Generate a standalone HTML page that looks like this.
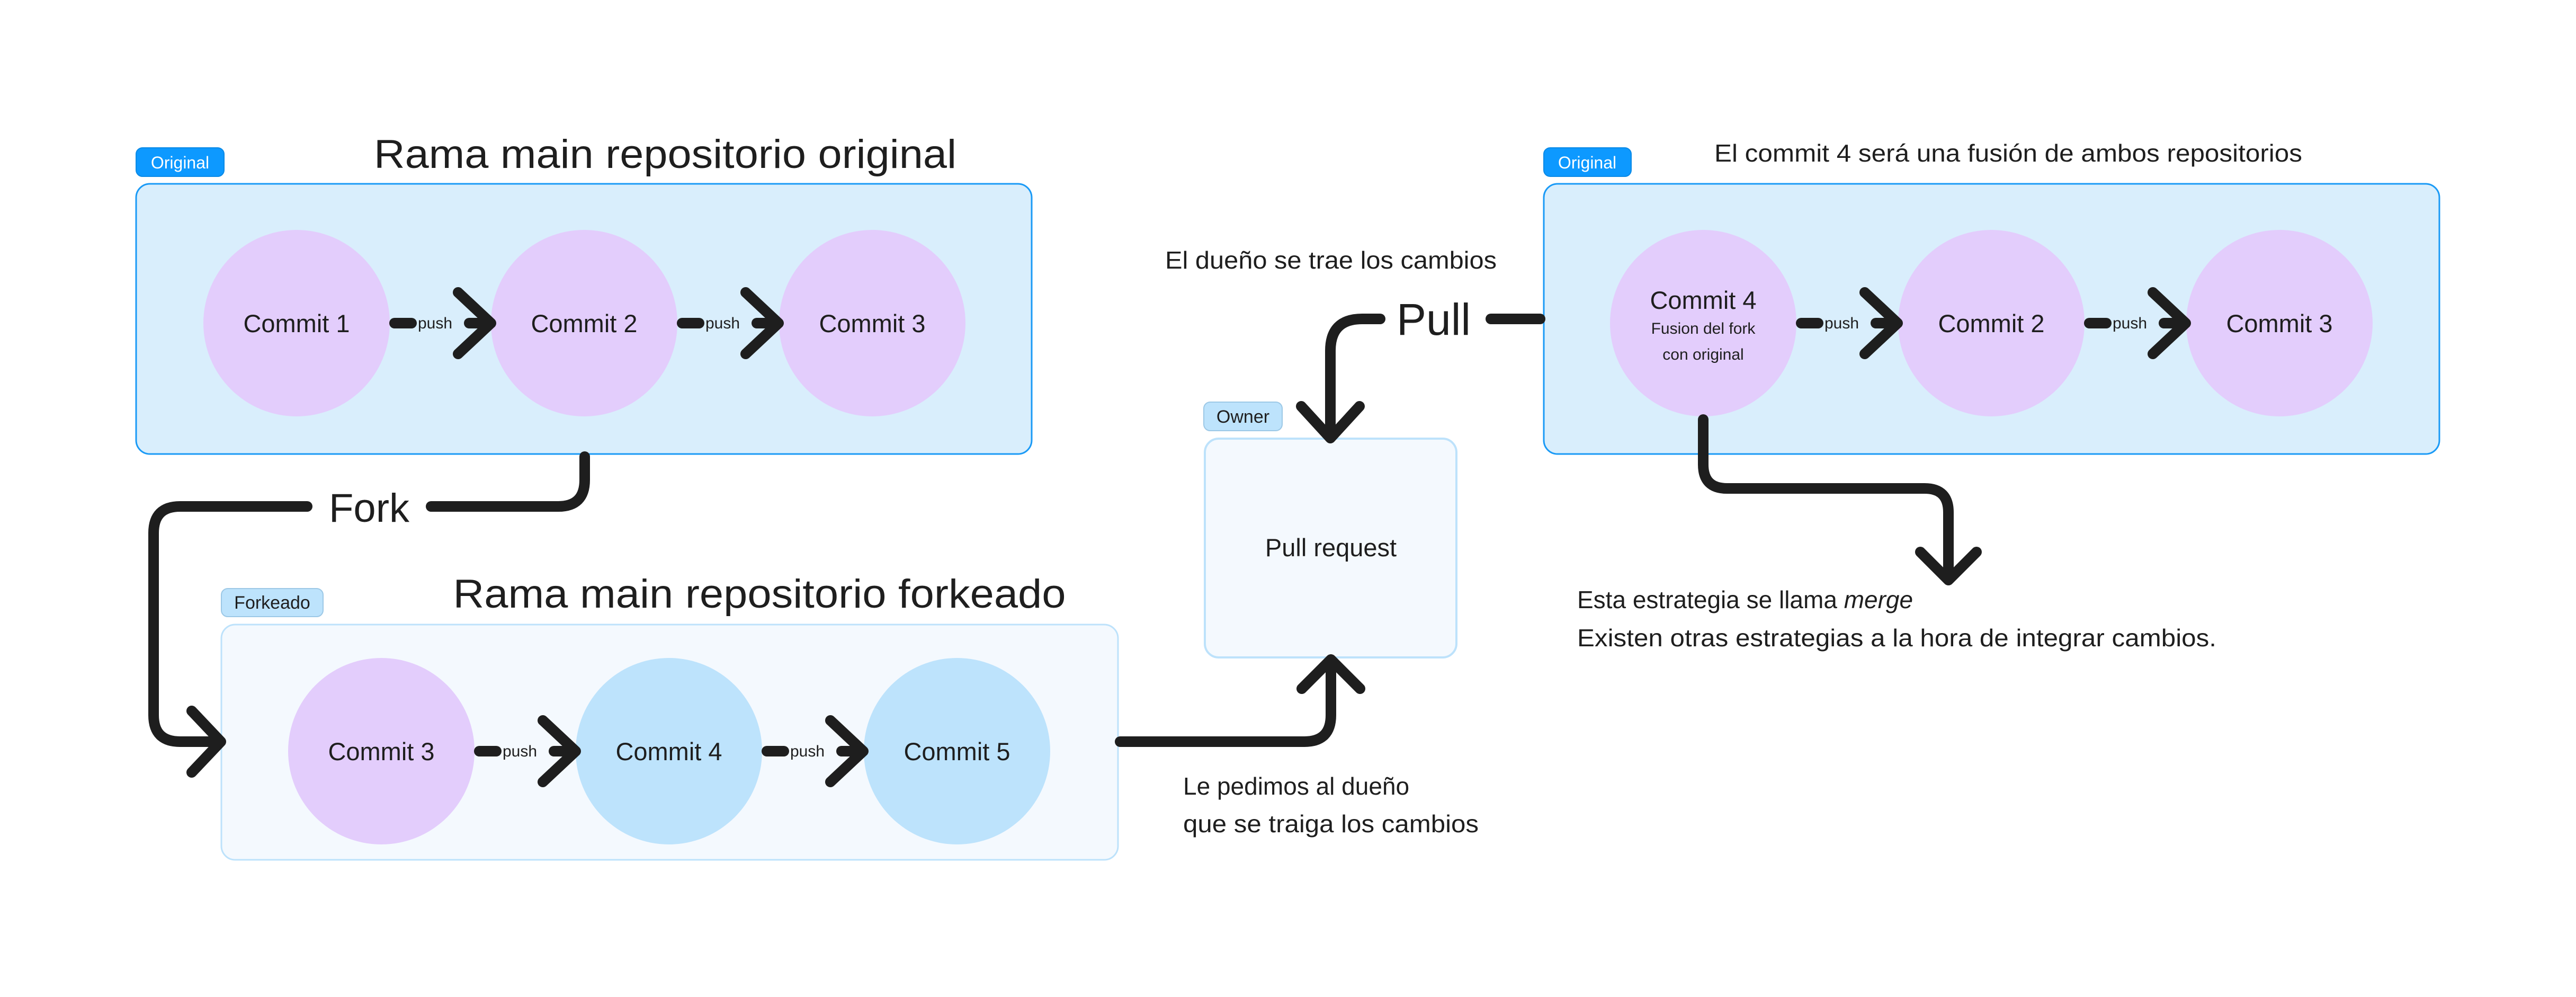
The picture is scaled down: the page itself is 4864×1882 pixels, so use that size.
<!DOCTYPE html>
<html><head><meta charset="utf-8"><style>
html,body{margin:0;padding:0;background:#fff;}
svg{display:block;}
text{font-family:"Liberation Sans",sans-serif;fill:#1e1e1e;}
</style></head><body>
<svg width="4864" height="1882" viewBox="0 0 4864 1882" xmlns="http://www.w3.org/2000/svg">
<rect width="4864" height="1882" fill="#fff"/>
<!-- Box 1 -->
<rect x="257" y="347" width="1691" height="510" rx="26" fill="#d9eefc" stroke="#1a9af6" stroke-width="3"/>
<rect x="257" y="279" width="166" height="54" rx="12" fill="#0d99ff" stroke="#0b8ae6" stroke-width="2"/>
<text x="340" y="318" font-size="32" text-anchor="middle" style="fill:#fff">Original</text>
<text x="1256" y="317" font-size="76" text-anchor="middle" textLength="1100" lengthAdjust="spacingAndGlyphs">Rama main repositorio original</text>
<g fill="#e3cdfc"><circle cx="560" cy="610" r="176"/><circle cx="1103" cy="610" r="176"/><circle cx="1647" cy="610" r="176"/></g>
<g font-size="47" text-anchor="middle" style="fill:#2a2230">
<text x="560" y="627">Commit 1</text><text x="1103" y="627">Commit 2</text><text x="1647" y="627">Commit 3</text></g>

<!-- Box 2 -->
<rect x="418" y="1179" width="1693" height="444" rx="26" fill="#f4f9fe" stroke="#bde2fb" stroke-width="3"/>
<rect x="418" y="1111" width="192" height="53" rx="12" fill="#bde3fc" stroke="#9cc8e6" stroke-width="2"/>
<text x="514" y="1149" font-size="34" text-anchor="middle">Forkeado</text>
<text x="1434" y="1147" font-size="76" text-anchor="middle" textLength="1157" lengthAdjust="spacingAndGlyphs">Rama main repositorio forkeado</text>
<circle cx="720" cy="1418" r="176" fill="#e3cdfc"/>
<circle cx="1263" cy="1418" r="176" fill="#bde3fc"/>
<circle cx="1807" cy="1418" r="176" fill="#bde3fc"/>
<g font-size="47" text-anchor="middle" style="fill:#2a2230">
<text x="720" y="1435">Commit 3</text><text x="1263" y="1435">Commit 4</text><text x="1807" y="1435">Commit 5</text></g>

<!-- Pull request -->
<rect x="2275" y="828" width="475" height="413" rx="26" fill="#f4f9fe" stroke="#bde2fb" stroke-width="4"/>
<rect x="2273" y="759" width="148" height="54" rx="12" fill="#bde3fc" stroke="#9cc8e6" stroke-width="2"/>
<text x="2347" y="798" font-size="34" text-anchor="middle">Owner</text>
<text x="2513" y="1050" font-size="47" text-anchor="middle">Pull request</text>

<!-- Box 3 -->
<rect x="2915" y="347" width="1691" height="510" rx="26" fill="#d9eefc" stroke="#1a9af6" stroke-width="3"/>
<rect x="2915" y="279" width="165" height="54" rx="12" fill="#0d99ff" stroke="#0b8ae6" stroke-width="2"/>
<text x="2997" y="318" font-size="32" text-anchor="middle" style="fill:#fff">Original</text>
<text x="3237" y="305" font-size="46" textLength="1110" lengthAdjust="spacingAndGlyphs">El commit 4 será una fusión de ambos repositorios</text>
<g fill="#e3cdfc"><circle cx="3216" cy="610" r="176"/><circle cx="3760" cy="610" r="176"/><circle cx="4304" cy="610" r="176"/></g>
<g text-anchor="middle" style="fill:#2a2230">
<text x="3216" y="583" font-size="47">Commit 4</text>
<text x="3216" y="630" font-size="30">Fusion del fork</text>
<text x="3216" y="679" font-size="30">con original</text>
<text x="3760" y="627" font-size="47">Commit 2</text><text x="4304" y="627" font-size="47">Commit 3</text></g>

<!-- push arrows -->
<g stroke="#1e1e1e" stroke-width="20" stroke-linecap="round" stroke-linejoin="round" fill="none">
<path d="M745 610H777 M886 610H922 M865 552L927 610L865 668"/>
<path d="M1288 610H1320 M1429 610H1465 M1408 552L1470 610L1408 668"/>
<path d="M905 1418H937 M1046 1418H1082 M1025 1360L1087 1418L1025 1476"/>
<path d="M1448 1418H1480 M1589 1418H1625 M1568 1360L1630 1418L1568 1476"/>
<path d="M3401 610H3433 M3542 610H3578 M3521 552L3583 610L3521 668"/>
<path d="M3945 610H3977 M4086 610H4122 M4065 552L4127 610L4065 668"/>
<!-- Fork -->
<path d="M1104 862V906Q1104 956 1054 956H814"/>
<path d="M580 956H340Q290 956 290 1006V1350Q290 1400 340 1400H412 M362 1342L417 1400L362 1458"/>
<!-- to pull request -->
<path d="M2115 1400H2463Q2513 1400 2513 1350V1245 M2458 1300L2513 1245L2568 1300"/>
<!-- Pull -->
<path d="M2908 602H2815"/>
<path d="M2606 602H2572Q2512 602 2512 662V822 M2457 767L2512 827L2567 767"/>
<!-- merge -->
<path d="M3216 792V877Q3216 922 3261 922H3634Q3679 922 3679 967V1090 M3626 1042L3679 1095L3732 1042"/>
</g>
<g font-size="30" style="fill:#2a2230">
<text x="789" y="620">push</text><text x="1332" y="620">push</text>
<text x="949" y="1428">push</text><text x="1492" y="1428">push</text>
<text x="3445" y="620">push</text><text x="3989" y="620">push</text></g>
<text x="697" y="985" font-size="76" text-anchor="middle">Fork</text>
<text x="2707" y="632" font-size="84" text-anchor="middle">Pull</text>
<g font-size="46">
<text x="2200" y="507" textLength="626" lengthAdjust="spacingAndGlyphs">El dueño se trae los cambios</text>
<text x="2978" y="1148">Esta estrategia se llama <tspan font-style="italic">merge</tspan></text>
<text x="2978" y="1220" textLength="1207" lengthAdjust="spacingAndGlyphs">Existen otras estrategias a la hora de integrar cambios.</text>
<text x="2234" y="1500">Le pedimos al dueño</text>
<text x="2234" y="1571" textLength="558" lengthAdjust="spacingAndGlyphs">que se traiga los cambios</text>
</g>
</svg>
</body></html>
